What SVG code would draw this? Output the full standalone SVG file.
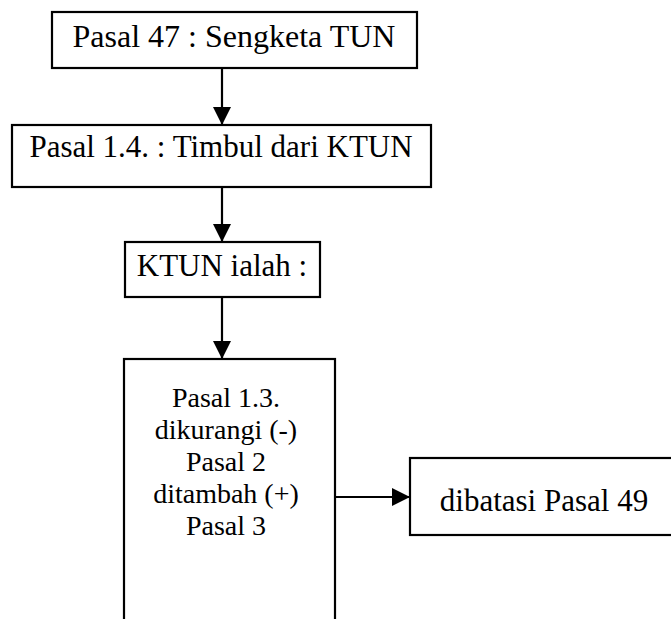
<svg xmlns="http://www.w3.org/2000/svg" width="671" height="619" viewBox="0 0 671 619">
<style>
.box{fill:#fff;stroke:#000;stroke-width:2.2}
.t{font-family:"Liberation Serif","Times New Roman",serif;font-size:31px;fill:#000;text-anchor:middle}
.s{font-size:28px}
.c{stroke:#000;stroke-width:2.2;fill:none;marker-end:url(#ah)}
</style>
<defs>
<marker id="ah" viewBox="0 0 10 10" refX="10" refY="5" markerWidth="19" markerHeight="18" markerUnits="userSpaceOnUse" orient="auto">
<path d="M0,0 L10,5 L0,10 Z" fill="#000"/>
</marker>
</defs>
<rect width="671" height="619" fill="#fff"/>
<g id="connectors">
<line class="c" x1="222" y1="68" x2="222" y2="125"/>
<line class="c" x1="222" y1="187" x2="222" y2="242"/>
<line class="c" x1="222" y1="297" x2="222" y2="359"/>
<line class="c" x1="335" y1="497" x2="410" y2="497"/>
</g>
<g id="n1">
<rect class="box" x="52" y="12" width="365" height="56"/>
<text class="t" x="234" y="47" style="font-size:32px">Pasal 47 : Sengketa TUN</text>
</g>
<g id="n2">
<rect class="box" x="12" y="125" width="419" height="62"/>
<text class="t" x="221" y="157">Pasal 1.4. : Timbul dari KTUN</text>
</g>
<g id="n3">
<rect class="box" x="125" y="242" width="195" height="55"/>
<text class="t" x="222" y="276">KTUN ialah :</text>
</g>
<g id="n4">
<rect class="box" x="124" y="359" width="211" height="290"/>
<text class="t s" x="226" y="407">Pasal 1.3.</text>
<text class="t s" x="226" y="439">dikurangi (-)</text>
<text class="t s" x="226" y="471">Pasal 2</text>
<text class="t s" x="226" y="503">ditambah (+)</text>
<text class="t s" x="226" y="535">Pasal 3</text>
</g>
<g id="n5">
<rect class="box" x="410" y="458" width="280" height="77"/>
<text class="t" x="544" y="511">dibatasi Pasal 49</text>
</g>
</svg>
